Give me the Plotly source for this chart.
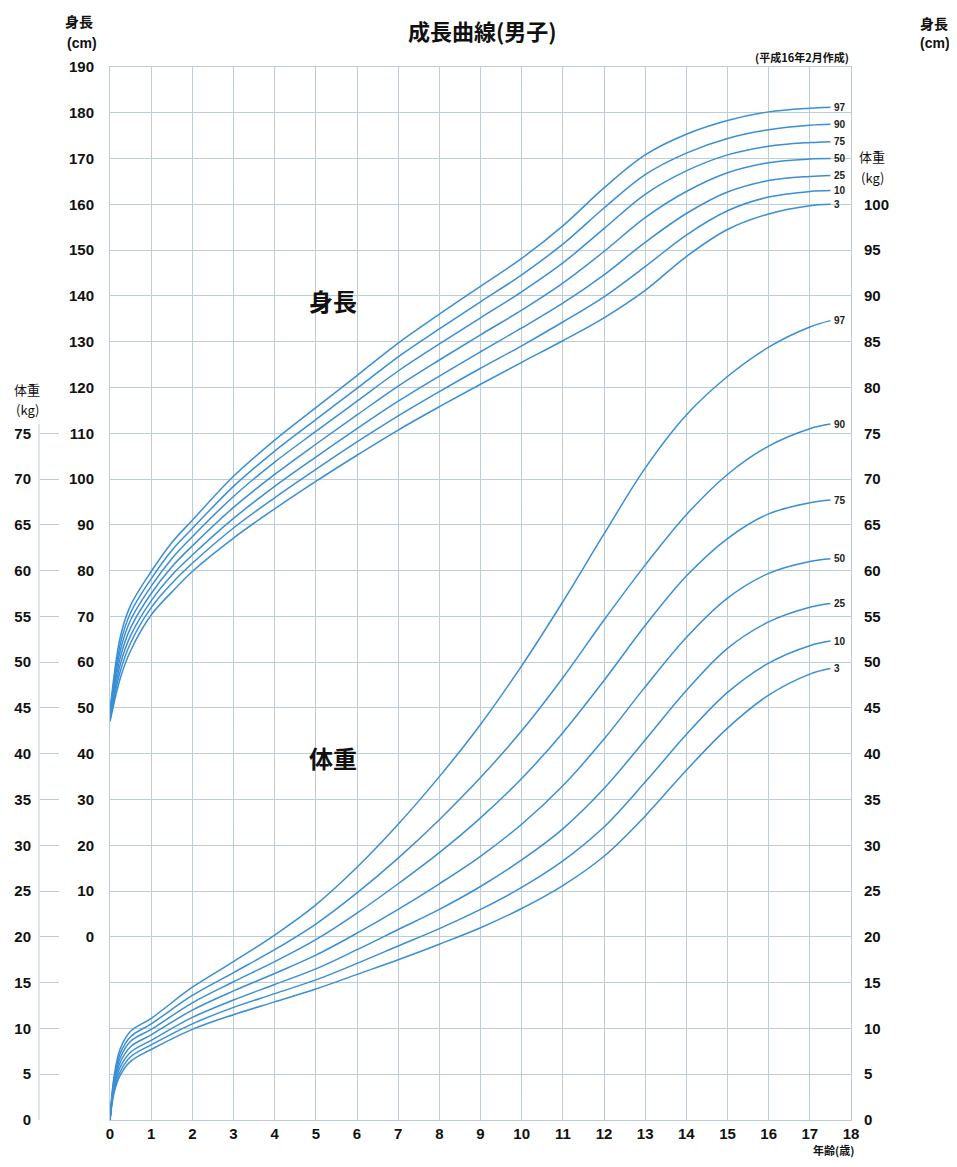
import plotly.graph_objects as go

# ---- data (boys, percentiles 3/10/25/50/75/90/97) ----
percentiles = ["3", "10", "25", "50", "75", "90", "97"]

ages_h = [0, 0.25, 0.5, 1, 1.5, 2, 3, 4, 5, 6, 7, 8, 9, 10, 11, 12, 13, 14, 15, 16, 17, 17.5]
height_p3 = [47.0, 56.5, 62.5, 70.3, 75.3, 79.8, 87.1, 93.5, 99.5, 105.2, 110.7, 115.8, 120.7, 125.5, 130.2, 135.2, 141.2, 148.6, 154.5, 157.9, 159.7, 160.0]
height_p10 = [47.4, 58.0, 64.2, 71.9, 77.2, 81.6, 89.3, 95.9, 102.1, 108.1, 113.8, 119.1, 124.2, 129.1, 134.3, 139.8, 146.4, 153.3, 158.6, 161.6, 162.8, 163.0]
height_p25 = [47.8, 59.5, 65.8, 73.4, 79.0, 83.4, 91.4, 98.4, 104.8, 111.0, 117.0, 122.5, 127.8, 133.0, 138.4, 144.6, 151.7, 158.0, 162.7, 165.2, 166.1, 166.3]
height_p50 = [48.2, 61.0, 67.5, 75.0, 80.8, 85.4, 93.8, 101.0, 107.6, 114.0, 120.3, 126.0, 131.5, 136.9, 142.8, 149.7, 157.1, 162.8, 166.9, 169.1, 169.9, 170.0]
height_p75 = [48.6, 62.5, 69.2, 76.6, 82.6, 87.4, 96.2, 103.7, 110.4, 117.0, 123.6, 129.5, 135.2, 140.9, 147.2, 154.7, 162.2, 167.3, 170.8, 172.7, 173.5, 173.7]
height_p90 = [49.0, 64.0, 70.8, 78.2, 84.4, 89.2, 98.4, 106.1, 113.0, 119.8, 126.7, 132.8, 138.7, 144.6, 151.3, 159.2, 166.5, 171.2, 174.4, 176.3, 177.3, 177.5]
height_p97 = [49.4, 65.5, 72.4, 79.8, 86.1, 91.0, 100.6, 108.5, 115.6, 122.6, 129.7, 136.0, 142.1, 148.2, 155.3, 163.6, 170.8, 175.3, 178.3, 180.2, 181.0, 181.2]

ages_w = [0, 0.1, 0.25, 0.5, 1, 2, 3, 4, 5, 6, 7, 8, 9, 10, 11, 12, 13, 14, 15, 16, 17, 17.5]
weight_p3 = [0, 3.0, 4.9, 6.4, 7.7, 9.9, 11.5, 12.9, 14.3, 15.9, 17.5, 19.2, 21.0, 23.1, 25.6, 28.8, 33.2, 38.2, 42.8, 46.4, 48.7, 49.3]
weight_p10 = [0, 3.3, 5.3, 6.9, 8.2, 10.5, 12.3, 13.8, 15.3, 17.1, 19.0, 20.9, 23.0, 25.4, 28.3, 32.0, 36.9, 42.1, 46.7, 49.9, 51.8, 52.3]
weight_p25 = [0, 3.6, 5.8, 7.4, 8.7, 11.2, 13.1, 14.8, 16.5, 18.6, 20.8, 23.0, 25.5, 28.4, 31.8, 36.2, 41.5, 46.9, 51.5, 54.4, 56.0, 56.4]
weight_p50 = [0, 3.9, 6.3, 8.0, 9.3, 12.0, 14.1, 16.0, 18.0, 20.4, 23.0, 25.8, 28.8, 32.3, 36.5, 41.6, 47.3, 52.7, 57.0, 59.7, 61.0, 61.3]
weight_p75 = [0, 4.2, 6.8, 8.6, 9.9, 12.8, 15.1, 17.3, 19.7, 22.6, 25.8, 29.2, 33.0, 37.3, 42.3, 48.0, 54.0, 59.4, 63.5, 66.2, 67.4, 67.7]
weight_p90 = [0, 4.5, 7.3, 9.1, 10.5, 13.6, 16.1, 18.6, 21.4, 24.8, 28.6, 32.8, 37.4, 42.5, 48.3, 54.6, 60.6, 66.1, 70.5, 73.6, 75.5, 76.0]
weight_p97 = [0, 4.8, 7.8, 9.7, 11.1, 14.5, 17.3, 20.2, 23.5, 27.6, 32.3, 37.5, 43.2, 49.6, 56.6, 64.0, 71.2, 77.0, 81.2, 84.4, 86.6, 87.3]

age_ticks = list(range(0, 19))
height_grid = list(range(-40, 191, 10))
height_ticks_right = list(range(130, 191, 10))
weight_ticks_left = list(range(0, 76, 5))
weight_ticks_right = list(range(0, 101, 5))

heights = [height_p3, height_p10, height_p25, height_p50, height_p75, height_p90, height_p97]
weights = [weight_p3, weight_p10, weight_p25, weight_p50, weight_p75, weight_p90, weight_p97]

# ---- style ----
PAGE_OFF = 8          # body margin of the page
W, H = 957 - 2 * PAGE_OFF, 1167 - 2 * PAGE_OFF
CURVE = "#3a8fd4"
GRID = "#bccdd8"
NUM_FONT = "Liberation Sans, Arial, sans-serif"
JP_FONT = "Noto Sans CJK JP, sans-serif"

def px_x(p):
    return (p - PAGE_OFF) / W

def px_y(p):
    return 1 - (p - PAGE_OFF) / H

fig = go.Figure()

for pct, vals in zip(percentiles, heights):
    fig.add_trace(go.Scatter(x=ages_h, y=vals, mode="lines", yaxis="y",
                             line=dict(color=CURVE, width=1.5, shape="spline", smoothing=1.0),
                             hoverinfo="skip", showlegend=False))
    fig.add_annotation(x=ages_h[-1], y=vals[-1], xref="x", yref="y", text=f"<b>{pct}</b>",
                       showarrow=False, xanchor="left", xshift=2,
                       font=dict(size=10, color="#222", family=NUM_FONT))

for pct, vals in zip(percentiles, weights):
    fig.add_trace(go.Scatter(x=ages_w, y=vals, mode="lines", yaxis="y3",
                             line=dict(color=CURVE, width=1.5, shape="spline", smoothing=1.0),
                             hoverinfo="skip", showlegend=False))
    fig.add_annotation(x=ages_w[-1], y=vals[-1], xref="x", yref="y3", text=f"<b>{pct}</b>",
                       showarrow=False, xanchor="left", xshift=2,
                       font=dict(size=10, color="#222", family=NUM_FONT))

tickfont = dict(family=NUM_FONT, size=15, color="#111", weight="bold")
dom_y = [px_y(1120), px_y(67)]

fig.update_layout(
    width=W, height=H, template="none",
    margin=dict(l=0, r=0, t=0, b=0),
    plot_bgcolor="white", paper_bgcolor="white",
    showlegend=False,
    xaxis=dict(domain=[px_x(110), px_x(851)], range=[0, 18], tickvals=age_ticks,
               showgrid=True, gridcolor=GRID, gridwidth=1, zeroline=False,
               showline=True, mirror=True, linecolor=GRID, linewidth=1,
               ticks="", tickfont=tickfont, ticklabelstandoff=0, automargin=False),
    yaxis=dict(domain=dom_y, range=[-40, 190], tickvals=height_grid,
               ticktext=[str(v) if v >= 0 else "" for v in height_grid],
               showgrid=True, gridcolor=GRID, gridwidth=1, zeroline=False,
               showline=True, mirror=True, linecolor=GRID, linewidth=1,
               ticks="", tickfont=tickfont, ticklabelstandoff=12, automargin=False),
    yaxis2=dict(overlaying="y", anchor="free", position=px_x(39), side="left",
                range=[0, 115], tickvals=weight_ticks_left, showgrid=False, zeroline=False,
                showline=False, ticks="inside", ticklen=19, tickcolor=GRID, tickwidth=1,
                tickfont=tickfont, ticklabelstandoff=8, automargin=False),
    yaxis3=dict(overlaying="y", anchor="x", side="right", range=[0, 115],
                tickvals=weight_ticks_right, showgrid=False, zeroline=False, showline=False,
                ticks="", tickfont=tickfont, ticklabelstandoff=12, automargin=False),
    yaxis4=dict(overlaying="y", anchor="free", position=px_x(906), side="right",
                range=[-40, 190], tickvals=height_ticks_right, showgrid=False, zeroline=False,
                showline=False, ticks="", tickfont=tickfont, ticklabelstandoff=10,
                automargin=False),
)

# left weight scale line
fig.add_shape(type="line", xref="paper", yref="y2", x0=px_x(39), x1=px_x(39), y0=0, y1=76,
              line=dict(color=GRID, width=1))

def label(text, x, y, size, bold=True, family=JP_FONT, yanchor="middle"):
    fig.add_annotation(x=px_x(x), y=px_y(y), xref="paper", yref="paper",
                       text=f"<b>{text}</b>" if bold else text, showarrow=False,
                       xanchor="center", yanchor=yanchor, borderpad=0,
                       font=dict(size=size, color="#111", family=family))

label("成長曲線(男子)", 482, 30, 22)
label("(平成16年2月作成)", 802, 57, 11)
label("身長", 79, 21, 14)
label("(cm)", 82, 43, 14, family=NUM_FONT)
label("身長", 934, 23, 14)
label("(cm)", 935, 43, 14, family=NUM_FONT)
label("体重", 27, 389, 13, bold=False)
label("(kg)", 27, 409, 13, bold=False)
label("体重", 872, 157, 13, bold=False)
label("(kg)", 872, 177, 13, bold=False)
label("身長", 333, 300, 24)
label("体重", 333, 757, 24)
label("年齢(歳)", 833, 1159, 11, yanchor="bottom")

fig.write_html("out.html")
